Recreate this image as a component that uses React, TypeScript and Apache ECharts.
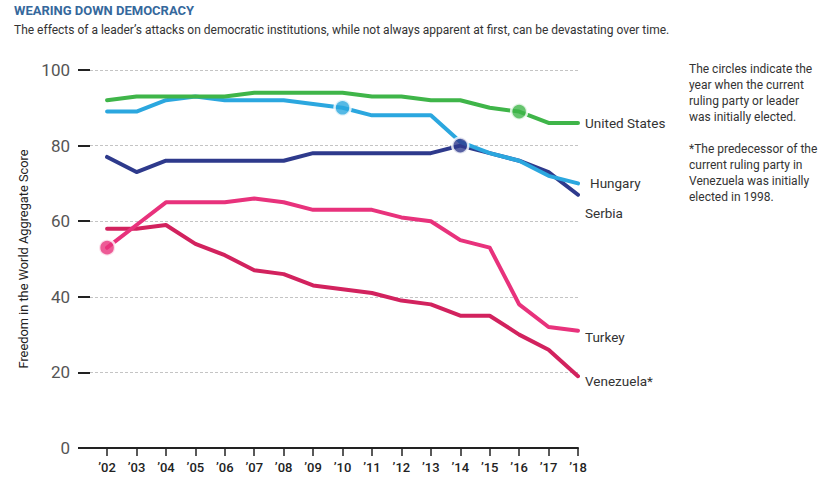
import React, { useEffect, useRef } from "react";
import * as echarts from "echarts";

const FONT = "Roboto, 'Noto Sans', sans-serif";

const years = [2002, 2003, 2004, 2005, 2006, 2007, 2008, 2009, 2010, 2011, 2012, 2013, 2014, 2015, 2016, 2017, 2018];
const yTicks = [0, 20, 40, 60, 80, 100];

const countryNames = ["Venezuela*", "Turkey", "Serbia", "Hungary", "United States"];
const venezuela = [58, 58, 59, 54, 51, 47, 46, 43, 42, 41, 39, 38, 35, 35, 30, 26, 19];
const turkey = [53, 59, 65, 65, 65, 66, 65, 63, 63, 63, 61, 60, 55, 53, 38, 32, 31];
const serbia = [77, 73, 76, 76, 76, 76, 76, 78, 78, 78, 78, 78, 80, 78, 76, 73, 67];
const hungary = [89, 89, 92, 93, 92, 92, 92, 91, 90, 88, 88, 88, 81, 78, 76, 72, 70];
const unitedStates = [92, 93, 93, 93, 93, 94, 94, 94, 94, 93, 93, 92, 92, 90, 89, 86, 86];
const countryValues = [venezuela, turkey, serbia, hungary, unitedStates];
// year the current ruling party / leader was first elected (null = none shown)
const electedYears: (number | null)[] = [null, 2002, 2014, 2010, 2016];

const colors = ["#d2225e", "#e8327c", "#2e3a8c", "#2ba7df", "#3fb549"];
const labelOffsets: [number, number][] = [[7, 5], [7, 6], [7, 18], [12, 0], [7, 0]];

const titleText = "WEARING DOWN DEMOCRACY";
const subtitleText =
  "The effects of a leader\u2019s attacks on democratic institutions, while not always apparent at first, can be devastating over time.";
const noteLines = [
  "The circles indicate the",
  "year when the current",
  "ruling party or leader",
  "was initially elected.",
  "",
  "*The predecessor of the",
  "current ruling party in",
  "Venezuela was initially",
  "elected in 1998.",
];
const yAxisName = "Freedom in the World Aggregate Score";

export default function App() {
  const ref = useRef<HTMLDivElement>(null);
  useEffect(() => {
    const chart = echarts.init(ref.current!, null, { renderer: "svg" });

    const lineSeries: any[] = countryNames.map((name, i) => ({
      type: "line",
      name,
      data: years.map((y, j) => [y, countryValues[i][j]]),
      symbol: "none",
      lineStyle: { width: 4, color: colors[i], cap: "round", join: "round" },
      itemStyle: { color: colors[i] },
      z: 2 + i,
      silent: true,
      endLabel: {
        show: true,
        formatter: name,
        distance: 0,
        offset: labelOffsets[i],
        color: "#333",
        fontSize: 13.5,
        fontFamily: FONT,
      },
    }));

    const circleSeries: any[] = countryNames
      .map((name, i) => {
        const ey = electedYears[i];
        if (ey === null) return null;
        const idx = years.indexOf(ey);
        return {
          type: "scatter",
          name: name + " elected",
          data: [[ey, countryValues[i][idx]]],
          symbol: "circle",
          symbolSize: 16,
          itemStyle: { color: colors[i], borderColor: "#fff", borderWidth: 2.5 },
          z: 20,
          silent: true,
        };
      })
      .filter(Boolean);

    chart.setOption({
      animation: false,
      backgroundColor: "#fff",
      textStyle: { fontFamily: FONT },
      grid: { left: 90, right: 249, top: 70, bottom: 44, containLabel: false },
      xAxis: {
        type: "value",
        min: 2001.42,
        max: 2018,
        splitLine: { show: false },
        axisLine: { show: true, onZero: false, lineStyle: { color: "#222", width: 2 } },
        axisTick: { show: true, customValues: years, length: 8, lineStyle: { color: "#222", width: 1.5 } },
        axisLabel: {
          customValues: years,
          formatter: (v: number) => "\u2019" + String(v).slice(2),
          margin: 13,
          color: "#222",
          fontSize: 13,
          fontWeight: 500,
          fontFamily: FONT,
        },
      },
      yAxis: {
        type: "value",
        min: 0,
        max: 100,
        interval: 20,
        axisLine: { show: false, onZero: false },
        axisTick: { show: true, length: 12, lineStyle: { color: "#222", width: 2 } },
        axisLabel: {
          margin: 20,
          color: "#555",
          fontSize: 17,
          fontFamily: FONT,
          formatter: (v: number) => (yTicks.indexOf(v) >= 0 ? String(v) : ""),
        },
        splitLine: { show: true, lineStyle: { type: [3, 2], color: "#c4c4c4", width: 1 } },
        name: yAxisName,
        nameLocation: "middle",
        nameRotate: 90,
        nameGap: 49,
        nameTextStyle: { color: "#222", fontSize: 12.8, fontFamily: FONT },
      },
      graphic: [
        {
          type: "text",
          x: 14,
          y: 4,
          style: { text: titleText, font: `bold 13px ${FONT}`, fill: "#35689c", verticalAlign: "top" },
        },
        {
          type: "text",
          x: 14,
          y: 23,
          scaleX: 0.924,
          originX: 0,
          originY: 0,
          style: { text: subtitleText, font: `13px ${FONT}`, fill: "#333", verticalAlign: "top" },
        },
        {
          type: "text",
          x: 689,
          y: 61,
          style: {
            text: noteLines.join("\n"),
            font: `12px ${FONT}`,
            lineHeight: 16,
            fill: "#333",
            verticalAlign: "top",
          },
        },
      ],
      series: [...lineSeries, ...circleSeries],
    });
    return () => chart.dispose();
  }, []);
  return <div ref={ref} style={{ position: "absolute", left: 0, top: 0, width: 827, height: 492 }} />;
}
